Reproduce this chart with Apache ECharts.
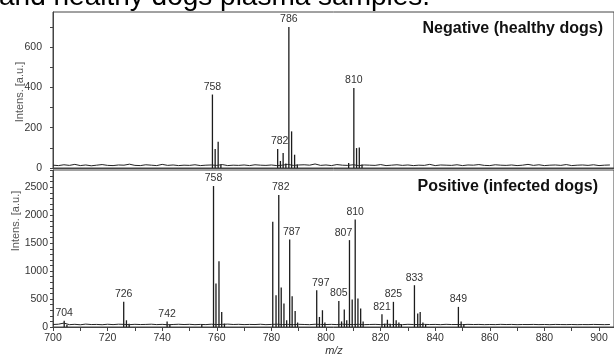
<!DOCTYPE html>
<html>
<head>
<meta charset="utf-8">
<script src="https://cdn.jsdelivr.net/npm/echarts@6/dist/echarts.min.js"></script>
<style>html,body{margin:0;padding:0;background:#fff;}#c{width:614px;height:356px;}</style>
</head>
<body>
<div id="c"></div>
<script>
// ---- Data ----
var captionText = 'and healthy dogs plasma samples.';
var topTitle = 'Negative (healthy dogs)';
var bottomTitle = 'Positive (infected dogs)';
var yName = 'Intens. [a.u.]';
var xName = 'm/z';

// Negative panel peaks: m/z, intensity, label
var negMz    = [758.4, 759.4, 760.5, 761.5, 782.3, 783.3, 784.3, 785.3, 786.4, 787.4, 788.5, 789.5, 808.3, 810.2, 811.2, 812.2, 813.2];
var negInt   = [365,   95,    130,   18,    95,    35,    75,    22,    700,   182,   66,    18,    25,    398,   99,    102,   18];
var negLabel = ['758', '',    '',    '',    '782', '',    '',    '',    '786', '',    '',    '',    '',    '810', '',    '',    ''];

// Positive panel peaks
var posMz    = [704.1, 705.1, 725.9, 726.9, 727.9, 741.8, 742.8, 754.5, 758.8, 759.7, 760.8, 761.8, 762.8,
                780.5, 781.7, 782.7, 783.6, 784.6, 785.6, 786.7, 787.6, 788.7, 789.6,
                796.6, 797.6, 798.7, 799.6, 804.7, 805.7, 806.7, 807.6, 808.6, 809.6, 810.7, 811.7, 812.7, 813.6,
                820.5, 821.5, 822.5, 823.5, 824.7, 825.7, 826.7, 827.6, 832.4, 833.6, 834.5, 835.5, 836.5,
                848.5, 849.5, 850.5];
var posInt   = [110, 40, 450, 120, 60, 100, 40, 45, 2523, 778, 1178, 270, 60,
                1883, 568, 2362, 706, 420, 120, 1567, 550, 287, 80,
                658, 180, 300, 80, 466, 100, 311, 120, 1555, 490, 1926, 509, 330, 100,
                227, 60, 130, 60, 450, 120, 80, 50, 748, 240, 270, 80, 50,
                360, 100, 50];
var posLabel = ['704', '', '726', '', '', '742', '', '', '758', '', '', '', '',
                '', '', '782', '', '', '', '787', '', '', '',
                '797', '', '', '', '805', '', '', '', '807', '', '810', '', '', '',
                '821', '', '', '', '825', '', '', '', '833', '', '', '', '',
                '849', '', ''];

// Baseline noise, one value every 2 m/z starting at 700
var negNoise = [14,12,16,13,18,12,15,11,14,17,
                13,12,15,14,19,13,12,16,14,12,
                18,13,15,12,14,13,16,12,14,15,
                13,17,12,14,13,15,12,16,14,13,
                15,12,14,18,13,15,16,14,20,13,
                15,12,17,14,13,16,12,15,14,13,
                17,12,14,16,13,15,12,14,13,18,
                12,15,14,13,16,12,15,14,17,13,
                12,16,14,13,15,12,14,18,13,16,
                12,14,15,13,17,12,14,15,13,16,
                12,14,15];
var posNoise = [45,50,70,42,48,40,52,44,46,41,
                49,43,50,47,42,48,44,46,50,43,
                47,41,45,49,44,48,42,46,43,50,
                44,47,52,45,48,43,46,44,49,42,
                46,50,44,47,43,48,45,42,49,46,
                44,47,43,50,46,44,48,42,45,47,
                43,49,44,46,42,48,45,43,47,44,
                46,42,48,44,45,43,47,44,46,42,
                45,43,47,44,46,42,45,44,46,43,
                45,42,46,44,43,45,42,44,43,46,
                44,42,45];

// ---- Build series data ----
var FONT = 'Liberation Sans, Arial, Helvetica, sans-serif';
var labelOffsets = {'797': [4, 0], '807': [-6, 0], '782': [2, 0], '787': [2, 0]};
function peakItems(mz, inten, labels) {
  return mz.map(function (m, i) {
    var it = { value: [m, inten[i]] };
    if (labels[i]) {
      it.label = { show: true, position: 'top', distance: 2, formatter: labels[i],
                   offset: labelOffsets[labels[i]] || [0, 0] };
    }
    return it;
  });
}
function noiseItems(arr) {
  return arr.map(function (v, i) { return [700 + 2 * i, v]; });
}

var xMin = 700, xMax = 905.5;
var chart = echarts.init(document.getElementById('c'), null, { renderer: 'canvas' });
var axisCol = '#444';
var labelStyle = { color: '#333', fontSize: 10.5, fontFamily: FONT };

chart.setOption({
  animation: false,
  backgroundColor: '#fff',
  textStyle: { fontFamily: FONT },
  grid: [
    { left: 53, top: 12, width: 565, height: 156, show: true, borderColor: axisCol, borderWidth: 1 },
    { left: 53, top: 170, width: 565, height: 157, show: true, borderColor: axisCol, borderWidth: 1 }
  ],
  xAxis: [
    { type: 'value', gridIndex: 0, min: xMin, max: xMax, interval: 10,
      axisLine: { show: true, onZero: false, lineStyle: { color: axisCol } },
      axisTick: { show: false }, axisLabel: { show: false }, splitLine: { show: false } },
    { type: 'value', gridIndex: 1, min: xMin, max: xMax, interval: 10,
      axisLine: { show: true, onZero: false, lineStyle: { color: axisCol } },
      axisTick: { show: true, inside: false, length: 4, lineStyle: { color: axisCol } },
      axisLabel: Object.assign({ margin: 6, showMaxLabel: false,
        formatter: function (v) { return (v % 20 === 0) ? String(v) : ''; } }, labelStyle),
      splitLine: { show: false } }
  ],
  yAxis: [
    { type: 'value', gridIndex: 0, min: 0, max: 775, interval: 100,
      axisLine: { show: true, lineStyle: { color: axisCol } },
      axisTick: { show: true, inside: false, length: 3, lineStyle: { color: axisCol } },
      axisLabel: Object.assign({ margin: 11, showMaxLabel: false,
        formatter: function (v) { return (v % 200 === 0) ? String(v) : ''; } }, labelStyle),
      splitLine: { show: false } },
    { type: 'value', gridIndex: 1, min: 0, max: 2810, interval: 100,
      axisLine: { show: true, lineStyle: { color: axisCol } },
      axisTick: { show: true, inside: false, length: 3, lineStyle: { color: axisCol } },
      axisLabel: Object.assign({ margin: 5, showMaxLabel: false,
        formatter: function (v) { return (v % 500 === 0) ? String(v) : ''; } }, labelStyle),
      splitLine: { show: false } }
  ],
  series: [
    { type: 'line', xAxisIndex: 0, yAxisIndex: 0, data: noiseItems(negNoise), symbol: 'none',
      lineStyle: { color: '#222', width: 1 }, silent: true },
    { type: 'bar', xAxisIndex: 0, yAxisIndex: 0, data: peakItems(negMz, negInt, negLabel),
      barWidth: 1.3, itemStyle: { color: '#1c1c1c' },
      label: { color: '#333', fontSize: 10.5, fontFamily: FONT } },
    { type: 'line', xAxisIndex: 1, yAxisIndex: 1, data: noiseItems(posNoise), symbol: 'none',
      lineStyle: { color: '#222', width: 1 }, silent: true },
    { type: 'bar', xAxisIndex: 1, yAxisIndex: 1, data: peakItems(posMz, posInt, posLabel),
      barWidth: 1.3, itemStyle: { color: '#1c1c1c' },
      label: { color: '#333', fontSize: 10.5, fontFamily: FONT } }
  ],
  graphic: [
    { type: 'text', x: -1, y: -3, style: { text: captionText, fill: '#000',
      verticalAlign: 'middle', font: '28px ' + FONT } },
    { type: 'text', x: 603, y: 29, style: { text: topTitle, fill: '#111', align: 'right',
      verticalAlign: 'middle', font: 'bold 16px ' + FONT } },
    { type: 'text', x: 598, y: 187, style: { text: bottomTitle, fill: '#111', align: 'right',
      verticalAlign: 'middle', font: 'bold 16px ' + FONT } },
    { type: 'text', x: 20, y: 92, rotation: Math.PI / 2, style: { text: yName, fill: '#555',
      align: 'center', verticalAlign: 'middle', font: '11px ' + FONT } },
    { type: 'text', x: 16, y: 221, rotation: Math.PI / 2, style: { text: yName, fill: '#555',
      align: 'center', verticalAlign: 'middle', font: '11px ' + FONT } },
    { type: 'text', x: 334, y: 351, style: { text: xName, fill: '#333',
      align: 'center', verticalAlign: 'middle', font: 'italic 11px ' + FONT } }
  ]
});
</script>
</body>
</html>
